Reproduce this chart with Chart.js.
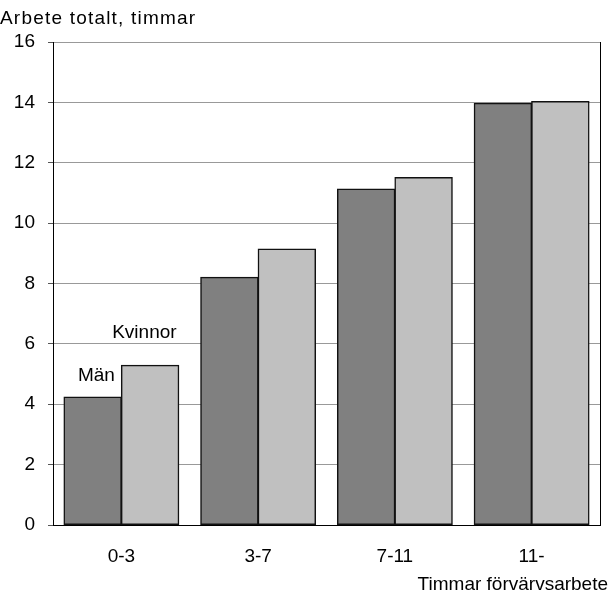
<!DOCTYPE html>
<html><head><meta charset="utf-8">
<script src="https://cdn.jsdelivr.net/npm/chart.js@4/dist/chart.umd.min.js"></script>
<style>html,body{margin:0;padding:0;background:#fff;}#wrap{width:611px;height:599px;position:relative;}</style>
</head><body><div id="wrap"><canvas id="c" width="611" height="599"></canvas></div>
<script>
const categories = ["0-3", "3-7", "7-11", "11-"];
const man = [4.24, 8.21, 11.13, 13.97];
const kvinnor = [5.29, 9.14, 11.51, 14.03];
const yTicks = [0, 2, 4, 6, 8, 10, 12, 14, 16];
const seriesNames = ["Män", "Kvinnor"];
const yTitle = "Arbete totalt, timmar";
const xTitle = "Timmar förvärvsarbete";
const FONT = "'Liberation Sans', Arial, sans-serif";

const extras = {
  id: 'extras',
  afterDraw(chart) {
    const ctx = chart.ctx, a = chart.chartArea, xs = chart.scales.x, ys = chart.scales.y;
    ctx.save();
    ctx.strokeStyle = '#000'; ctx.lineWidth = 1;
    ctx.beginPath(); ctx.moveTo(Math.round(a.right) + 0.5, a.top); ctx.lineTo(Math.round(a.right) + 0.5, a.bottom); ctx.stroke();
    ctx.fillStyle = '#000';
    ctx.font = '19px ' + FONT;
    ctx.textBaseline = 'alphabetic';
    ctx.textAlign = 'left';
    try { ctx.letterSpacing = '1.2px'; } catch (e) {}
    ctx.fillText(yTitle, 0, 24);
    try { ctx.letterSpacing = '0px'; } catch (e) {}
    ctx.textAlign = 'right';
    ctx.fillText(xTitle, 608, 590);
    ctx.textAlign = 'center';
    const c0 = xs.getPixelForValue(0);
    ctx.fillText(seriesNames[1], c0 + 23, ys.getPixelForValue(6.2));
    ctx.fillText(seriesNames[0], c0 - 25, ys.getPixelForValue(4.77));
    ctx.restore();
  }
};

new Chart(document.getElementById('c'), {
  type: 'bar',
  data: {
    labels: categories,
    datasets: [
      { label: seriesNames[0], data: man, backgroundColor: '#808080', borderColor: '#111', borderWidth: 1.5, borderSkipped: false, inflateAmount: 0.5 },
      { label: seriesNames[1], data: kvinnor, backgroundColor: '#c0c0c0', borderColor: '#111', borderWidth: 1.5, borderSkipped: false, inflateAmount: 0.5 }
    ]
  },
  options: {
    responsive: false,
    animation: false,
    devicePixelRatio: 1,
    layout: { padding: { top: 42, right: 11, left: 0, bottom: 0 } },
    plugins: { legend: { display: false }, tooltip: { enabled: false } },
    datasets: { bar: { categoryPercentage: 0.84, barPercentage: 1.0 } },
    scales: {
      x: {
        grid: { display: false },
        border: { color: '#000', width: 1 },
        ticks: { color: '#000', font: { family: FONT, size: 19 }, padding: 12, maxRotation: 0 },
        afterFit(s) { s.height = 74; }
      },
      y: {
        min: 0, max: 16,
        afterBuildTicks(s) { s.ticks = yTicks.map(v => ({ value: v })); },
        grid: { color: '#999', lineWidth: 1, tickLength: 5, tickColor: '#555' },
        border: { color: '#000', width: 1 },
        ticks: { color: '#000', font: { family: FONT, size: 19 }, padding: 13 },
        afterFit(s) { s.width = 53; }
      }
    }
  },
  plugins: [extras]
});
</script></body></html>
